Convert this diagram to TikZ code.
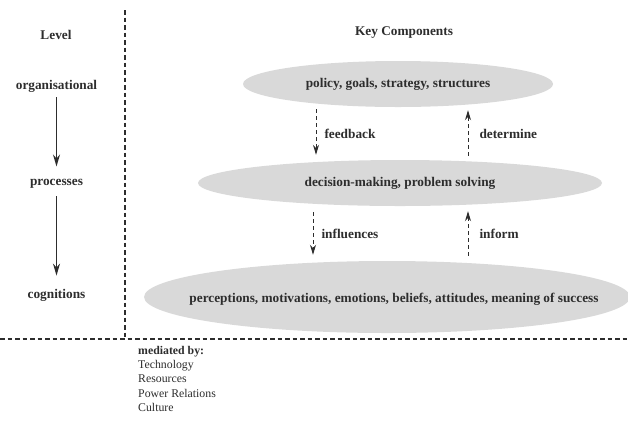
\documentclass[tikz,border=0pt]{standalone}
\usepackage{fontspec}
\setmainfont{Liberation Serif}
\usetikzlibrary{arrows.meta,shapes.geometric}
\definecolor{ink}{RGB}{45,45,45}
\definecolor{blob}{RGB}{217,217,217}

\begin{document}
\begin{tikzpicture}[x=1pt, y=-1pt,
    lvl/.style = {font=\fontsize{13.3}{16}\selectfont\bfseries, text=ink, inner sep=0, anchor=base},
    comp/.style = {ellipse, fill=blob, inner sep=0, font=\fontsize{13.3}{16}\selectfont\bfseries, text=ink},
    sep/.style = {ink, line width=1.5pt, dash pattern=on 4.5pt off 3pt},
    down/.style = {ink, line width=1.5pt, -{Stealth[length=12pt, width=7pt]}},
    flow/.style = {ink, line width=1pt, dash pattern=on 4pt off 3pt, -{Stealth[length=10pt, width=6pt]}}]
        \useasboundingbox (0,0) rectangle (628,424);
        % separators
        \draw[sep] (125,10) -- (125,339);
        \draw[sep] (0,339) -- (628,339);
        % level column
        \node[lvl] (level) at (56,39) {Level};
        \node[lvl] (org) at (56.5,89) {organisational};
        \node[lvl] (proc) at (56.5,185) {processes};
        \node[lvl] (cog) at (56.5,298) {cognitions};
        \draw[down, shorten <=5pt, shorten >=12pt] (org) -- (proc);
        \draw[down, shorten <=8pt, shorten >=13pt] (proc) -- (cog);
        % components
        \node[lvl] (key) at (404,35) {Key Components};
        \node[comp, minimum width=310pt, minimum height=46pt] (policy) at (398,84) {policy, goals, strategy, structures};
        \node[comp, minimum width=404pt, minimum height=46pt] (decision) at (400,183) {decision-making, problem solving};
        \node[comp, minimum width=486pt, minimum height=72pt] (percept) at (387,297) {};
        \node[lvl] (perctext) at (394,302) {perceptions, motivations, emotions, beliefs, attitudes, meaning of success};
        \draw[flow, shorten <=2pt, shorten >=5pt] (316,0 |- policy.south) -- (316,0 |- decision.north) node[midway, right=8pt, lvl, anchor=west] {feedback};
        \draw[flow, shorten <=4pt, shorten >=3pt] (468,0 |- decision.north) -- (468,0 |- policy.south) node[midway, right=11pt, lvl, anchor=west] {determine};
        \draw[flow, shorten <=6pt, shorten >=6pt] (313,0 |- decision.south) -- (313,0 |- percept.north) node[midway, right=8pt, lvl, anchor=west] {influences};
        \draw[flow, shorten <=5pt, shorten >=5pt] (468,0 |- percept.north) -- (468,0 |- decision.south) node[midway, right=11pt, lvl, anchor=west] {inform};
        % mediators
        \node[font=\fontsize{11.8}{14.3}\selectfont, text=ink, align=left, anchor=north west, inner sep=0] (medi) at (138,346)
          {\textbf{mediated by:}\\Technology\\Resources\\Power Relations\\Culture};
\end{tikzpicture}
\end{document}
